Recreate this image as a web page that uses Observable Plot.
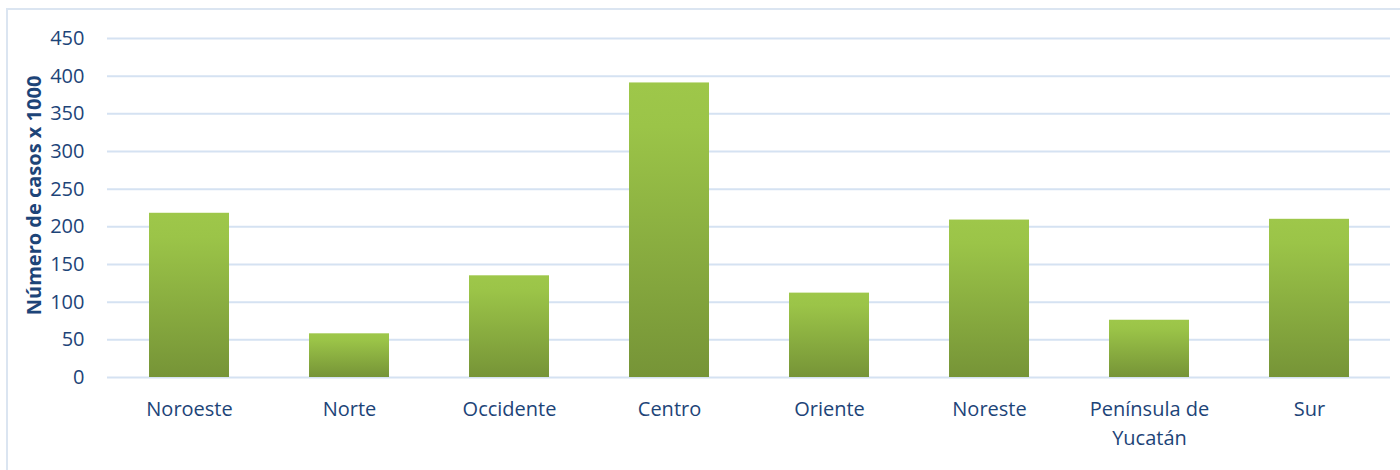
<!DOCTYPE html>
<html>
<head>
<meta charset="utf-8">
<script src="https://cdn.jsdelivr.net/npm/d3@7"></script>
<script src="https://cdn.jsdelivr.net/npm/@observablehq/plot@0.6"></script>
<style>
  html, body { margin: 0; padding: 0; background: #fff; }
  #wrap { position: relative; width: 1400px; height: 470px; overflow: hidden; }
  #frame { position: absolute; left: 6px; top: 8px; width: 1400px; height: 480px; border: 2px solid #dbe5f1; box-sizing: border-box; }
  #chart { position: absolute; left: 0; top: 0; }
</style>
</head>
<body>
<div id="wrap"><div id="frame"></div><div id="chart"></div></div>
<script>
const regions = ["Noroeste", "Norte", "Occidente", "Centro", "Oriente", "Noreste", "Península de Yucatán", "Sur"];
const cases = [218, 58, 135, 391, 112, 209, 76, 210];
const regionLabels = ["Noroeste", "Norte", "Occidente", "Centro", "Oriente", "Noreste", "Península de\nYucatán", "Sur"];
const yTicks = [0, 50, 100, 150, 200, 250, 300, 350, 400, 450];
const yTitle = "Número de casos x 1000";

const data = regions.map((r, i) => ({region: r, value: cases[i]}));
const labelOf = new Map(regions.map((r, i) => [r, regionLabels[i]]));

const textColor = "#1d4478";

function defs() {
  const g = d3.create("svg:defs");
  const grad = g.append("linearGradient").attr("id", "barGrad").attr("x1", 0).attr("y1", 0).attr("x2", 0).attr("y2", 1);
  grad.append("stop").attr("offset", "0%").attr("stop-color", "#9ec74a");
  grad.append("stop").attr("offset", "15%").attr("stop-color", "#9bc448");
  grad.append("stop").attr("offset", "100%").attr("stop-color", "#769437");
  const f = g.append("filter").attr("id", "barShadow").attr("x", "-20%").attr("y", "-10%").attr("width", "140%").attr("height", "130%");
  f.append("feDropShadow").attr("dx", 2).attr("dy", 3).attr("stdDeviation", 2.5).attr("flood-color", "#000").attr("flood-opacity", 0.35);
  return g.node();
}

const chart = Plot.plot({
  width: 1400,
  height: 470,
  marginLeft: 107,
  marginRight: 10,
  marginTop: 38,
  marginBottom: 93,
  style: {fontFamily: "'Open Sans', sans-serif", fontSize: "20px", color: textColor, background: "transparent"},
  x: {domain: regions, paddingInner: 0.5, paddingOuter: 0.25, label: null},
  y: {domain: [0, 450], ticks: yTicks, label: null},
  marks: [
    defs,
    Plot.gridY(yTicks, {stroke: "#d5e2f2", strokeOpacity: 1, strokeWidth: 2}),
    Plot.barY(data, {x: "region", y: "value", fill: "url(#barGrad)"}),
    Plot.axisY({ticks: yTicks, tickSize: 0, tickPadding: 23, fill: textColor, fontSize: 20, label: null}),
    Plot.axisX({tickSize: 0, tickPadding: 18, fill: textColor, fontSize: 20, lineHeight: 1.45, tickFormat: d => labelOf.get(d), label: null})
  ]
});
chart.querySelectorAll("rect").forEach(r => { if (r.getAttribute("fill") === "url(#barGrad)") r.setAttribute("filter", "url(#barShadow)"); });
const yScale = chart.scale("y");
d3.select(chart).append("text")
  .attr("transform", `translate(36,${yScale.apply(241)}) rotate(-90)`)
  .attr("text-anchor", "middle")
  .attr("dominant-baseline", "middle")
  .attr("font-weight", "bold")
  .attr("font-size", 20)
  .attr("fill", textColor)
  .text(yTitle);
document.getElementById("chart").appendChild(chart);
</script>
</body>
</html>
